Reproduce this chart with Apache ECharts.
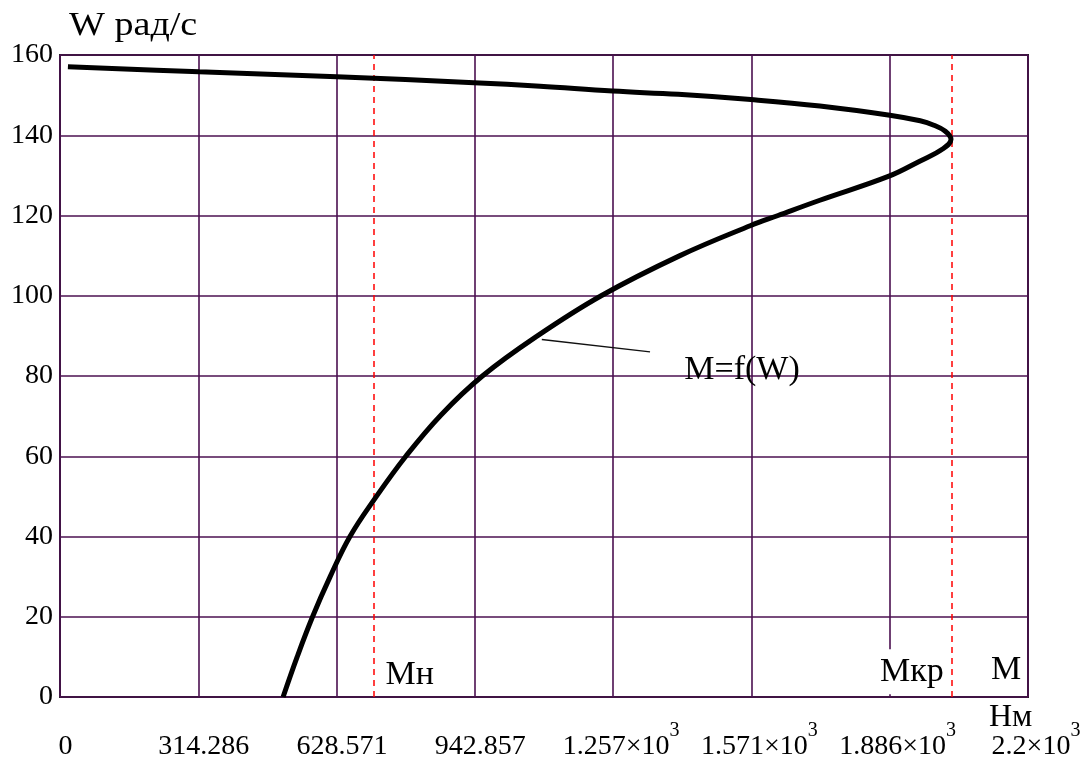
<!DOCTYPE html>
<html>
<head>
<meta charset="utf-8">
<script src="https://cdn.jsdelivr.net/npm/echarts@6/dist/echarts.min.js"></script>
<style>
  html, body { margin: 0; padding: 0; background: #fff; }
  #chart { width: 1092px; height: 760px; }
</style>
</head>
<body>
<div id="chart"></div>
<script>
  // M (Нм) vs W (рад/с) (lower branch, tip, upper branch)
  var curveM = [507, 539, 574, 614, 659, 716, 786, 866, 960, 1085, 1230, 1409, 1570, 1632, 1727, 1884, 1955, 2005, 2025,
                2012, 1986, 1955, 1886, 1727, 1570, 1405, 1256, 1091, 941, 629, 316, 18];
  var curveW = [0, 10, 20, 30, 40, 49.5, 60, 70.3, 80, 90, 100, 110, 117.5, 120, 123.8, 129.8, 133.6, 136.5, 139,
                141, 142.5, 143.6, 145, 147.3, 148.9, 150.2, 151, 152.2, 153.1, 154.6, 155.8, 157.1];

  var xTickLabels = ['0', '314.286', '628.571', '942.857', '1.257×10', '1.571×10', '1.886×10', '2.2×10'];
  var xTickPower = ['', '', '', '', '3', '3', '3', '3'];
  var xMax = 2200;
  var yTicks = [0, 20, 40, 60, 80, 100, 120, 140, 160];

  var markerM = [713, 2026];          // Mн, Mкр
  var leaderM = [1095, 1341];
  var leaderW = [89.1, 86.0];

  var noteText = ['Mн', 'Mкр', 'M', 'M=f(W)'];
  var noteM = [795, 1936, 2150, 1550];
  var noteW = [5.5, 6.3, 6.7, 81.5];

  var serif = '"Liberation Serif", "DejaVu Serif", serif';
  var step = xMax / 7;
  var gridColor = '#4b1050';

  var chart = echarts.init(document.getElementById('chart'));
  chart.setOption({
    backgroundColor: '#ffffff',
    animation: false,
    grid: {
      left: 60,
      right: 64,
      top: 55,
      bottom: 63,
      containLabel: false,
      outerBoundsMode: 'none',
      show: true,
      borderColor: '#222',
      borderWidth: 2
    },
    graphic: [{
      type: 'text',
      left: 69,
      top: 9,
      scaleX: 1.12,
      style: { text: 'W рад/с', font: '34px ' + serif, fill: '#000' }
    }, {
      type: 'text',
      left: 989,
      top: 702,
      style: { text: 'Нм', font: '32px ' + serif, fill: '#000' }
    }],
    xAxis: {
      type: 'value',
      min: 0,
      max: xMax,
      interval: step,
      axisLine: { show: false },
      axisTick: { show: false },
      axisLabel: {
        margin: 20,
        padding: [0, 0, 0, 16],
        showMaxLabel: true,
        formatter: function (v) {
          var i = Math.round(v / step);
          return '{n|' + xTickLabels[i] + '}{s|' + (xTickPower[i] || ' ') + '}';
        },
        rich: {
          n: { fontFamily: serif, fontSize: 28, color: '#000', padding: [16, 0, 0, 0] },
          s: { fontFamily: serif, fontSize: 20, color: '#000', padding: [0, 0, 16, 0] }
        }
      },
      splitLine: { lineStyle: { color: gridColor, width: 1.6 } }
    },
    yAxis: {
      type: 'value',
      min: yTicks[0],
      max: yTicks[yTicks.length - 1],
      interval: 20,
      axisLine: { show: false },
      axisTick: { show: false },
      axisLabel: { margin: 7, color: '#000', fontFamily: serif, fontSize: 28, padding: [3, 0, 0, 0] },
      splitLine: { lineStyle: { color: gridColor, width: 1.6 } }
    },
    series: [{
      name: 'M=f(W)',
      type: 'line',
      smooth: 0.4,
      showSymbol: false,
      lineStyle: { color: '#000', width: 5 },
      data: curveM.map(function (m, i) { return [m, curveW[i]]; }),
      markLine: {
        silent: true,
        symbol: 'none',
        label: { show: false },
        lineStyle: { color: '#ff0000', type: [6, 5], width: 1.5 },
        data: markerM.map(function (m) { return { xAxis: m }; })
      },
      z: 5
    }, {
      type: 'line',
      showSymbol: false,
      lineStyle: { color: '#111', width: 1.4 },
      data: leaderM.map(function (m, i) { return [m, leaderW[i]]; }),
      z: 4
    }, {
      type: 'scatter',
      symbolSize: 0,
      silent: true,
      itemStyle: { opacity: 1 },
      data: noteM.map(function (m, i) {
        var item = { value: [m, noteW[i]], name: noteText[i] };
        if (noteText[i] === 'Mкр') {
          item.label = { backgroundColor: '#fff', padding: [2, 2, 9, 2] };
        }
        return item;
      }),
      label: {
        show: true,
        position: 'inside',
        formatter: '{b}',
        color: '#000',
        opacity: 1,
        fontFamily: serif,
        fontSize: 34
      },
      z: 6
    }]
  });
</script>
</body>
</html>
